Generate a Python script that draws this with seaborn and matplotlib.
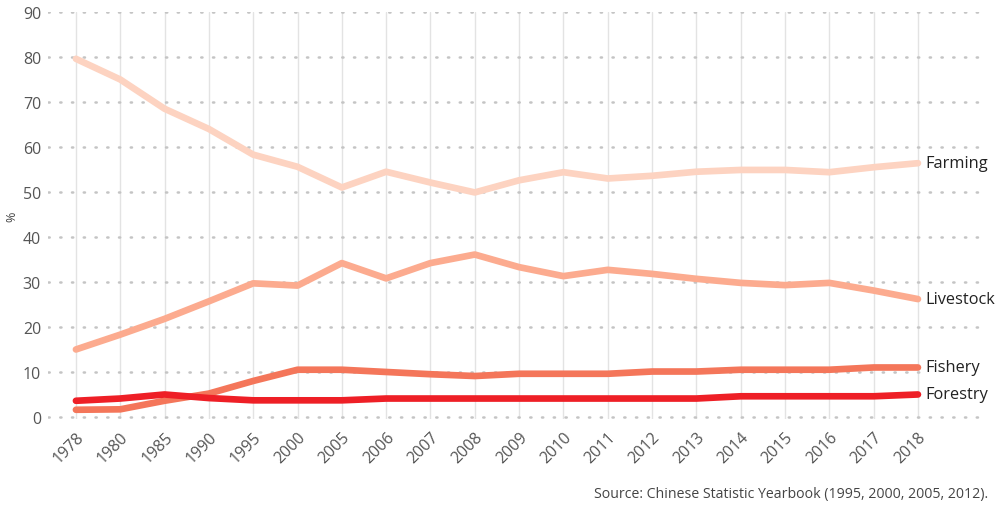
import pandas as pd
import numpy as np
import matplotlib
matplotlib.use('Agg')
import matplotlib.pyplot as plt
import seaborn as sns

years = ['1978', '1980', '1985', '1990', '1995', '2000', '2005', '2006', '2007', '2008',
         '2009', '2010', '2011', '2012', '2013', '2014', '2015', '2016', '2017', '2018']
farming = [79.6, 75.0, 68.5, 64.0, 58.3, 55.6, 51.0, 54.5, 52.1, 49.9,
           52.6, 54.4, 53.0, 53.6, 54.5, 54.9, 54.9, 54.4, 55.5, 56.4]
livestock = [15.0, 18.3, 21.8, 25.7, 29.7, 29.2, 34.2, 30.8, 34.2, 36.1,
             33.3, 31.3, 32.7, 31.8, 30.7, 29.8, 29.3, 29.8, 28.1, 26.2]
fishery = [1.6, 1.7, 3.6, 5.2, 8.0, 10.5, 10.5, 10.0, 9.5, 9.1,
           9.6, 9.6, 9.6, 10.1, 10.1, 10.5, 10.5, 10.5, 11.0, 11.0]
forestry = [3.6, 4.1, 5.0, 4.2, 3.7, 3.7, 3.7, 4.1, 4.1, 4.1,
            4.1, 4.1, 4.1, 4.1, 4.1, 4.6, 4.6, 4.6, 4.6, 5.0]
sectors = ['Farming', 'Livestock', 'Fishery', 'Forestry']
colors = ['#fdd3c1', '#fcab8f', '#f4765a', '#ee1f26']

df = pd.DataFrame({'year': years, 'Farming': farming, 'Livestock': livestock,
                   'Fishery': fishery, 'Forestry': forestry})
long = df.melt(id_vars='year', var_name='sector', value_name='pct')
long['x'] = long['year'].map({y: i for i, y in enumerate(years)})

sns.set_style('white')
plt.rcParams['font.family'] = ['Open Sans', 'DejaVu Sans']

fig = plt.figure(figsize=(10.02, 5.06), dpi=100)
ax = fig.add_axes([48 / 1002, 1 - 420 / 506, 940 / 1002, 407 / 506])

sns.lineplot(data=long, x='x', y='pct', hue='sector', hue_order=sectors,
             palette=colors, linewidth=4.8, legend=False, ax=ax,
             solid_capstyle='round', solid_joinstyle='round', zorder=3)

ax.set_xlim(-0.63, 20.58)
ax.set_ylim(-0.45, 90)
ax.set_xticks(range(len(years)))
ax.set_xticklabels(years, rotation=45, ha='right', rotation_mode='anchor')
ax.set_yticks(range(0, 91, 10))
ax.tick_params(axis='both', length=0, labelsize=11.5, labelcolor='#555555')
ax.tick_params(axis='x', pad=7)
ax.tick_params(axis='y', pad=5)

for x in range(len(years)):
    ax.axvline(x, color='#e3e3e3', lw=1, zorder=1)
for y in range(0, 91, 10):
    ax.axhline(y, color='#c4c4c4', lw=1.8, ls=(0, (0.5, 4.2)),
               dash_capstyle='round', zorder=1)

for s in ax.spines.values():
    s.set_visible(False)

ax.set_xlabel('')
ax.set_ylabel('%', fontsize=9, color='#444444')
ax.yaxis.set_label_coords(-30 / 940, (418 - 215) / 407)

last = len(years) - 1
for name in sectors:
    ax.text(last + 0.17, df[name].iloc[-1], name, fontsize=11.8, color='#222222',
            va='center', ha='left', zorder=4,
            bbox=dict(facecolor='white', edgecolor='none', pad=1))

fig.text(988 / 1002, 1 - 495 / 506,
         'Source: Chinese Statistic Yearbook (1995, 2000, 2005, 2012).',
         ha='right', va='center', fontsize=10.2, color='#444444')

fig.savefig('out.png', dpi=100)
